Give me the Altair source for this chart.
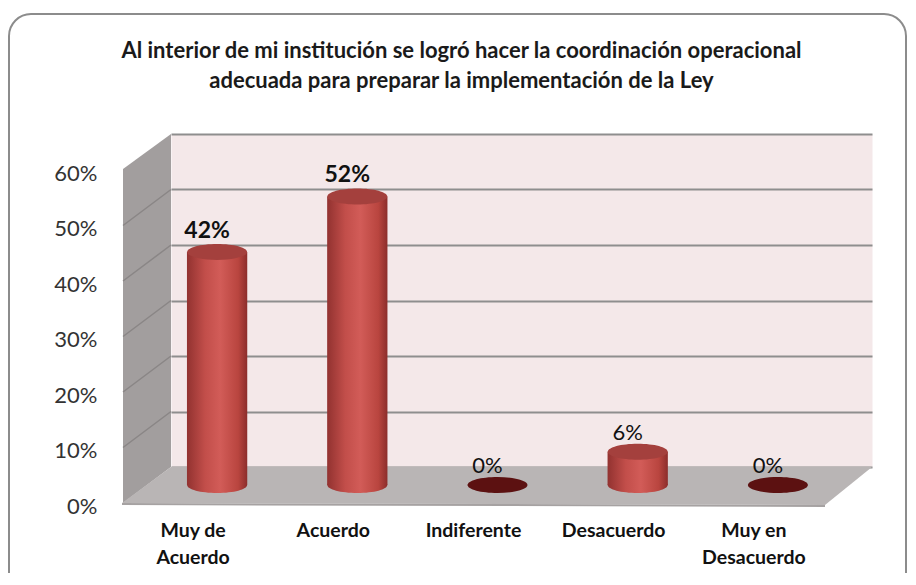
import altair as alt
import pandas as pd

# ---------------- data ----------------
categories = ["Muy de\nAcuerdo", "Acuerdo", "Indiferente", "Desacuerdo", "Muy en\nDesacuerdo"]
values = [0.42, 0.52, 0.00, 0.06, 0.00]
y_ticks = [0.0, 0.1, 0.2, 0.3, 0.4, 0.5, 0.6]
title_lines = [
    "Al interior de mi institución se logró hacer la coordinación operacional",
    "adecuada para preparar la implementación de la Ley",
]

df = pd.DataFrame({"cat": categories, "value": values})
wall_ticks = pd.DataFrame({"value": y_ticks[1:-1]})
one = pd.DataFrame({"k": [0]})

# ---------------- styling ----------------
W, H = 701, 333          # back wall (plot area)
DX, DY = -24, 18         # mid-depth shift for the cylinders
FONT = "Lato"

body_grad = alt.Gradient(
    gradient="linear", x1=0, x2=1, y1=0, y2=0,
    stops=[
        alt.GradientStop(color="#923230", offset=0),
        alt.GradientStop(color="#c24e4a", offset=0.3),
        alt.GradientStop(color="#d25c58", offset=0.55),
        alt.GradientStop(color="#b9453f", offset=0.85),
        alt.GradientStop(color="#8c2d2b", offset=1),
    ],
)

ellipse_cap = "M -30 0 A 30 8 0 1 0 30 0 A 30 8 0 1 0 -30 0 Z"
wall_path = "M 0 0 L -48 35 L -48 369 L 0 333 Z"
floor_path = "M 0 0 L 701 0 L 654 38 L -49 36 Z"
floor_front = "M -49 36 L 654 38 L 654 40 L -49 38 Z"
diag = "M 0 0 L -48 36"

yscale = alt.Scale(domain=[0, 0.6], nice=False)

x_enc = alt.X(
    "cat:N", sort=categories, title=None,
    scale=alt.Scale(paddingInner=0.57, paddingOuter=0.285),
    axis=alt.Axis(
        labelAngle=0, labelOffset=-48, labelPadding=54, domain=False, ticks=False,
        labelFont=FONT, labelFontSize=19.5, labelFontWeight="bold", labelColor="#111111",
        labelLineHeight=27, labelExpr="split(datum.label, '\\n')",
    ),
)
y_enc = alt.Y(
    "value:Q", title=None, scale=yscale,
    axis=alt.Axis(
        values=y_ticks, format=".0%", grid=True, gridColor="#8e8e8e", gridWidth=2,
        domain=False, ticks=False, labelPadding=74, labelOffset=39,
        labelFont=FONT, labelFontSize=22, labelColor="#333333",
    ),
)

base = alt.Chart(df).encode(x=x_enc, y=y_enc)

border = alt.Chart(one).mark_rect(
    cornerRadius=22, fillOpacity=0, stroke="#8c8c8c", strokeWidth=2
).encode(x=alt.value(-162), x2=alt.value(735), y=alt.value(-120), y2=alt.value(470))

left_wall = alt.Chart(one).mark_point(
    shape=wall_path, size=4, filled=True, fill="#a29e9e", opacity=1, strokeWidth=0
).encode(x=alt.value(0), y=alt.value(0))

wall_lines = alt.Chart(wall_ticks).mark_point(
    shape=diag, size=4, filled=False, stroke="#8a8686", strokeWidth=1.5, opacity=1
).encode(x=alt.value(0), y=y_enc)

floor = alt.Chart(one).mark_point(
    shape=floor_path, size=4, filled=True, fill="#b9b5b5", opacity=1, strokeWidth=0
).encode(x=alt.value(0), y=alt.value(H))

floor_edge = alt.Chart(one).mark_point(
    shape=floor_front, size=4, filled=True, fill="#a6a2a2", opacity=1, strokeWidth=0
).encode(x=alt.value(0), y=alt.value(H))

bottoms = base.mark_point(
    shape=ellipse_cap, size=4, filled=True, fill=body_grad, opacity=1, strokeWidth=0,
    xOffset=DX, yOffset=DY,
).encode(y=alt.datum(0)).transform_filter("datum.value > 0")

bars = base.mark_bar(
    fill=body_grad, xOffset=DX, x2Offset=DX, yOffset=DY, y2Offset=DY
).transform_filter("datum.value > 0")

caps = base.mark_point(
    shape=ellipse_cap, size=4, filled=True, opacity=1, strokeWidth=0,
    xOffset=DX, yOffset=DY,
).encode(
    fill=alt.condition("datum.value > 0", alt.value("#a4403d"), alt.value("#5c1111"))
)

labels_big = base.mark_text(
    font=FONT, fontSize=23, fontWeight="bold", color="#111111", baseline="middle",
    xOffset=DX - 10, yOffset=DY - 21,
).encode(text=alt.Text("value:Q", format=".0%")).transform_filter("datum.value >= 0.1")

labels_small = base.mark_text(
    font=FONT, fontSize=22, color="#111111", baseline="middle",
    xOffset=DX - 10, yOffset=DY - 19,
).encode(text=alt.Text("value:Q", format=".0%")).transform_filter("datum.value < 0.1")

chart = alt.layer(
    border, left_wall, wall_lines, floor, floor_edge, bottoms, bars, caps, labels_big, labels_small
).properties(
    width=W, height=H,
    autosize=alt.AutoSizeParams(type="none"),
    padding={"left": 163, "top": 126, "right": 36, "bottom": 106},
    title=alt.TitleParams(
        text=title_lines, font=FONT, fontSize=22, fontWeight="bold", color="#1a1a1a",
        anchor="middle", frame="group", dx=-60, offset=-80, lineHeight=30,
    ),
    background="white",
).configure_view(fill="#f4e8e9", stroke="transparent")

chart.save("out.html", embed_options={"renderer": "svg", "actions": False})
